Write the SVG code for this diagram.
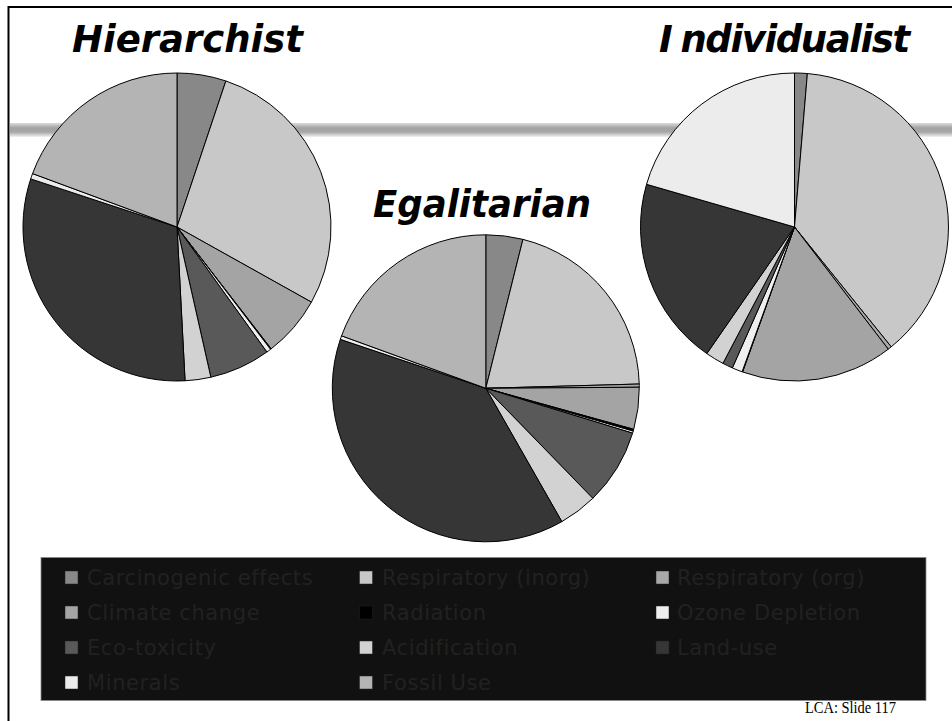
<svg xmlns="http://www.w3.org/2000/svg" width="952" height="721" viewBox="0 0 952 721">
  <defs>
    <linearGradient id="bandGrad" x1="0" y1="0" x2="0" y2="1">
      <stop offset="0" stop-color="#dcdcdc"/>
      <stop offset="0.35" stop-color="#a2a2a2"/>
      <stop offset="0.65" stop-color="#a8a8a8"/>
      <stop offset="1" stop-color="#f2f2f2"/>
    </linearGradient>
  </defs>
  <style>
    .title { font-family: "DejaVu Sans", Verdana, sans-serif; font-weight: bold; font-style: italic; font-size: 37px; fill: #000; }
    .slice { stroke: #000; stroke-width: 1; stroke-linejoin: round; }
    .carc { fill: #888888; }
    .rinorg { fill: #c8c8c8; }
    .rorg { fill: #a9a9a9; }
    .clim { fill: #a4a4a4; }
    .rad { fill: #000000; }
    .ozone { fill: #efefef; }
    .eco { fill: #595959; }
    .acid { fill: #d2d2d2; }
    .land { fill: #363636; }
    .min { fill: #ececec; }
    .fossil { fill: #b4b4b4; }
    .lg { font-family: "DejaVu Sans", Verdana, sans-serif; font-size: 21px; letter-spacing: 0.6px; fill: #212121; }
    .key { stroke: #222; stroke-width: 0.5; }
    .footer { font-family: "Liberation Serif", "Times New Roman", serif; font-size: 16px; fill: #000; }
  </style>

  <rect x="0" y="0" width="952" height="721" fill="#ffffff"/>

  <!-- slide frame: top rule, left rule and the shaded header band -->
  <g id="frame">
    <rect x="10" y="123" width="942" height="14" fill="url(#bandGrad)"/>
    <line x1="8" y1="7" x2="952" y2="7" stroke="#000" stroke-width="2"/>
    <line x1="8.5" y1="6" x2="8.5" y2="721" stroke="#000" stroke-width="2"/>
  </g>

  <!-- Hierarchist pie -->
  <g id="pie-hierarchist">
    <path class="slice carc" d="M177 227 L177 73 A154 154 0 0 1 225.86 80.96 Z"/>
    <path class="slice rinorg" d="M177 227 L225.86 80.96 A154 154 0 0 1 311.43 302.14 Z"/>
    <path class="slice clim" d="M177 227 L311.43 302.14 A154 154 0 0 1 271.17 348.84 Z"/>
    <path class="slice rad" d="M177 227 L271.17 348.84 A154 154 0 0 1 270.54 349.34 Z"/>
    <path class="slice ozone" d="M177 227 L270.54 349.34 A154 154 0 0 1 266.86 352.06 Z"/>
    <path class="slice eco" d="M177 227 L266.86 352.06 A154 154 0 0 1 210.85 377.23 Z"/>
    <path class="slice acid" d="M177 227 L210.85 377.23 A154 154 0 0 1 185.05 380.78 Z"/>
    <path class="slice land" d="M177 227 L185.05 380.78 A154 154 0 0 1 30.7 178.9 Z"/>
    <path class="slice min" d="M177 227 L30.7 178.9 A154 154 0 0 1 32.56 173.58 Z"/>
    <path class="slice fossil" d="M177 227 L32.56 173.58 A154 154 0 0 1 177 73 Z"/>
    <text class="title" x="72" y="52" textLength="231" lengthAdjust="spacingAndGlyphs">Hierarchist</text>
  </g>

  <!-- Egalitarian pie -->
  <g id="pie-egalitarian">
    <path class="slice carc" d="M485.8 388.3 L485.8 234.8 A153.5 153.5 0 0 1 522.93 239.36 Z"/>
    <path class="slice rinorg" d="M485.8 388.3 L522.93 239.36 A153.5 153.5 0 0 1 639.24 384.02 Z"/>
    <path class="slice rorg" d="M485.8 388.3 L639.24 384.02 A153.5 153.5 0 0 1 639.3 387.23 Z"/>
    <path class="slice clim" d="M485.8 388.3 L639.3 387.23 A153.5 153.5 0 0 1 633.71 429.32 Z"/>
    <path class="slice rad" d="M485.8 388.3 L633.71 429.32 A153.5 153.5 0 0 1 633.21 431.13 Z"/>
    <path class="slice ozone" d="M485.8 388.3 L633.21 431.13 A153.5 153.5 0 0 1 632.59 433.18 Z"/>
    <path class="slice eco" d="M485.8 388.3 L632.59 433.18 A153.5 153.5 0 0 1 592.82 498.34 Z"/>
    <path class="slice acid" d="M485.8 388.3 L592.82 498.34 A153.5 153.5 0 0 1 561.86 521.63 Z"/>
    <path class="slice land" d="M485.8 388.3 L561.86 521.63 A153.5 153.5 0 0 1 340.31 339.33 Z"/>
    <path class="slice min" d="M485.8 388.3 L340.31 339.33 A153.5 153.5 0 0 1 341.56 335.8 Z"/>
    <path class="slice fossil" d="M485.8 388.3 L341.56 335.8 A153.5 153.5 0 0 1 485.8 234.8 Z"/>
    <text class="title" x="373" y="217" textLength="218" lengthAdjust="spacingAndGlyphs">Egalitarian</text>
  </g>

  <!-- Individualist pie -->
  <g id="pie-individualist">
    <path class="slice carc" d="M794.5 227 L794.5 73 A154 154 0 0 1 807.39 73.54 Z"/>
    <path class="slice rinorg" d="M794.5 227 L807.39 73.54 A154 154 0 0 1 891.21 346.84 Z"/>
    <path class="slice rorg" d="M794.5 227 L891.21 346.84 A154 154 0 0 1 888.26 349.18 Z"/>
    <path class="slice clim" d="M794.5 227 L888.26 349.18 A154 154 0 0 1 742.59 371.99 Z"/>
    <path class="slice rad" d="M794.5 227 L742.59 371.99 A154 154 0 0 1 742.08 371.81 Z"/>
    <path class="slice ozone" d="M794.5 227 L742.08 371.81 A154 154 0 0 1 732.36 367.91 Z"/>
    <path class="slice eco" d="M794.5 227 L732.36 367.91 A154 154 0 0 1 722.92 363.35 Z"/>
    <path class="slice acid" d="M794.5 227 L722.92 363.35 A154 154 0 0 1 706.83 353.6 Z"/>
    <path class="slice land" d="M794.5 227 L706.83 353.6 A154 154 0 0 1 646.54 184.3 Z"/>
    <path class="slice min" d="M794.5 227 L646.54 184.3 A154 154 0 0 1 794.5 73 Z"/>
    <text class="title" x="659" y="52" letter-spacing="-1.4">I<tspan dx="9">ndividualist</tspan></text>
  </g>

  <!-- legend -->
  <g id="legend">
    <rect x="41" y="557.5" width="885" height="143" fill="#111111" stroke="#8a8a8a" stroke-width="0.8"/>

    <rect class="key carc" x="65" y="571" width="13" height="13"/>
    <text class="lg" x="87" y="585">Carcinogenic effects</text>
    <rect class="key rinorg" x="359.5" y="571" width="13" height="13"/>
    <text class="lg" x="382" y="585">Respiratory (inorg)</text>
    <rect class="key rorg" x="656" y="571" width="13" height="13"/>
    <text class="lg" x="677" y="585">Respiratory (org)</text>

    <rect class="key clim" x="65" y="606" width="13" height="13"/>
    <text class="lg" x="87" y="620">Climate change</text>
    <rect class="key rad" x="359.5" y="606" width="13" height="13"/>
    <text class="lg" x="382" y="620">Radiation</text>
    <rect class="key ozone" x="656" y="606" width="13" height="13"/>
    <text class="lg" x="677" y="620">Ozone Depletion</text>

    <rect class="key eco" x="65" y="641" width="13" height="13"/>
    <text class="lg" x="87" y="655">Eco-toxicity</text>
    <rect class="key acid" x="359.5" y="641" width="13" height="13"/>
    <text class="lg" x="382" y="655">Acidification</text>
    <rect class="key land" x="656" y="641" width="13" height="13"/>
    <text class="lg" x="677" y="655">Land-use</text>

    <rect class="key min" x="65" y="676" width="13" height="13"/>
    <text class="lg" x="87" y="690">Minerals</text>
    <rect class="key fossil" x="359.5" y="676" width="13" height="13"/>
    <text class="lg" x="382" y="690">Fossil Use</text>
  </g>

  <text class="footer" x="805" y="713" textLength="91" lengthAdjust="spacingAndGlyphs">LCA: Slide 117</text>
</svg>
